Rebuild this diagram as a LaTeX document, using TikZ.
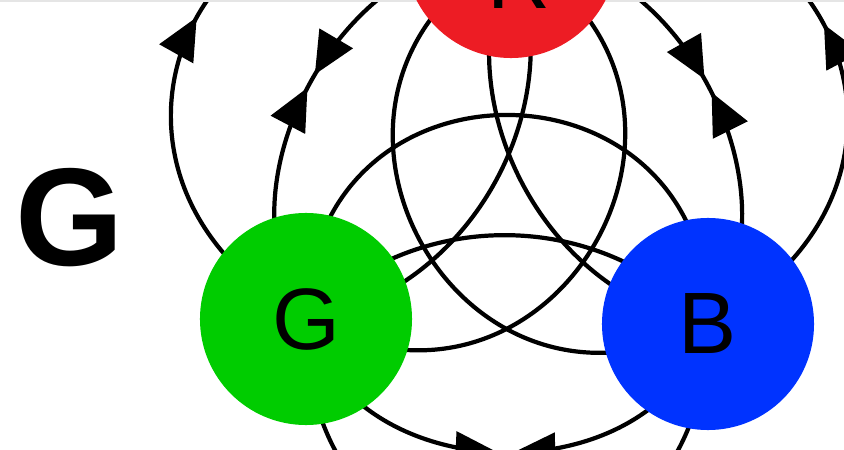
\documentclass[tikz,border=0pt]{standalone}
\usepackage{fontspec}
\setmainfont{Liberation Sans}
\usetikzlibrary{arrows.meta,topaths,decorations.markings,backgrounds}
\definecolor{colR}{RGB}{237,28,36}
\definecolor{colG}{RGB}{0,204,0}
\definecolor{colB}{RGB}{0,51,255}

\begin{document}
\begin{tikzpicture}[
  x=0.025cm,y=0.025cm,
  vertex/.style={circle,minimum size=5.3cm,inner sep=0pt,font=\fontsize{62}{62}\selectfont},
  arc/.style={line width=3pt},
  midarrow/.style={postaction={decorate,decoration={markings,
    mark=at position 0.5 with {\arrow{Triangle[length=1.05cm,width=0.95cm]}}}}},
  twoway/.style={postaction={decorate,decoration={markings,
    mark=at position 0.485 with {\arrow{Triangle[length=1.05cm,width=0.95cm]}},
    mark=at position 0.515 with {\arrowreversed{Triangle[length=1.05cm,width=0.95cm]}}}}}
]
  \useasboundingbox (0,0) rectangle (844,449);
  \clip (0,0) rectangle (844,449);
  \draw[gray!20,line width=2pt] (0,448) -- (844,448);

  \node[vertex,fill=colR] (R) at (511,497) {\raisebox{-1.4cm}[0pt][0pt]{\hspace{0.4cm}R}};
  \node[vertex,fill=colG] (G) at (306,130) {G};
  \node[vertex,fill=colB] (B) at (708,125) {B};
  \node[font=\bfseries\fontsize{99}{99}\selectfont,inner sep=0pt] (name) at (70,231) {G};

  \begin{scope}[on background layer]
    % G -- R
    \draw[arc,midarrow] (G.center) to[bend left=90,looseness=1.97] (R.center);
    \draw[arc,twoway] (G.center) to[bend left=65] (R.center);
    \draw[arc] (G.center) to[bend right=53] (R.center);
    \draw[arc] (G.center) to[bend right=90,looseness=1.75] (R.center);
    % B -- R
    \draw[arc,midarrow] (B.center) to[bend right=90,looseness=1.97] (R.center);
    \draw[arc,twoway] (B.center) to[bend right=65] (R.center);
    \draw[arc] (B.center) to[bend left=53] (R.center);
    \draw[arc] (B.center) to[bend left=90,looseness=1.75] (R.center);
    % G -- B
    \draw[arc] (G.center) to[bend right=90,looseness=1.97] (B.center);
    \draw[arc,twoway] (G.center) to[bend right=75,looseness=1.15] (B.center);
    \draw[arc] (G.center) to[bend left=47] (B.center);
    \draw[arc] (G.center) to[bend left=90,looseness=1.75] (B.center);
  \end{scope}
\end{tikzpicture}
\end{document}
